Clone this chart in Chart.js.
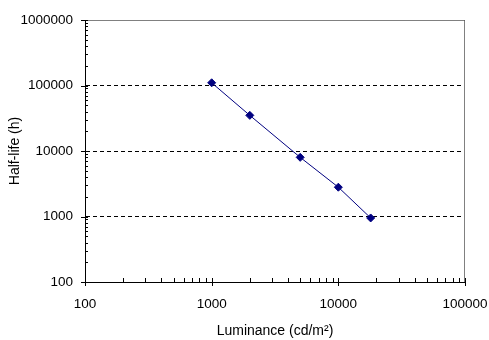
<!DOCTYPE html>
<html>
<head>
<meta charset="utf-8">
<script src="https://cdn.jsdelivr.net/npm/chart.js@4/dist/chart.umd.min.js"></script>
<style>
    html, body { margin: 0; padding: 0; background: #fff; }
    #wrap { width: 489px; height: 340px; }
</style>
</head>
<body>
<div id="wrap"><canvas id="chart" width="489" height="340"></canvas></div>
<script>
// Chart data
const luminance = [1000, 2000, 5000, 10000, 18000];
const halfLife = [110000, 35000, 8000, 2800, 950];
const xTickValues = [100, 1000, 10000, 100000];
const yTickValues = [100, 1000, 10000, 100000, 1000000];

const navy = '#000080';

// Draws the gray frame and the little log ticks like the old office chart
const frameAndTicks = {
    id: 'frameAndTicks',
    beforeDatasetsDraw(chart) {
        const ctx = chart.ctx;
        const area = chart.chartArea;
        ctx.save();
        ctx.strokeStyle = '#808080';
        ctx.lineWidth = 1;
        ctx.beginPath();
        ctx.moveTo(area.left, area.top + 0.5);
        ctx.lineTo(area.right - 0.5, area.top + 0.5);
        ctx.lineTo(area.right - 0.5, area.bottom);
        ctx.stroke();
        ctx.restore();
    },
    afterDatasetsDraw(chart) {
        const ctx = chart.ctx;
        const xs = chart.scales.x;
        const ys = chart.scales.y;
        const area = chart.chartArea;
        ctx.save();
        ctx.strokeStyle = '#000';
        ctx.lineWidth = 1;
        ctx.beginPath();

        // x axis ticks
        xTickValues.forEach((v, i) => {
            const px = Math.round(xs.getPixelForValue(v)) + 0.5;
            ctx.moveTo(px, area.bottom - 4);
            ctx.lineTo(px, area.bottom + 4);
            if (i < xTickValues.length - 1) {
                for (let m = 2; m < 10; m++) {
                    const mx = Math.round(xs.getPixelForValue(v * m)) + 0.5;
                    ctx.moveTo(mx, area.bottom - 4);
                    ctx.lineTo(mx, area.bottom);
                }
            }
        });

        // y axis ticks
        yTickValues.forEach((v, i) => {
            const py = Math.round(ys.getPixelForValue(v)) + 0.5;
            ctx.moveTo(area.left - 4, py);
            ctx.lineTo(area.left + 3, py);
            if (i < yTickValues.length - 1) {
                for (let m = 2; m < 10; m++) {
                    const my = Math.round(ys.getPixelForValue(v * m)) + 0.5;
                    ctx.moveTo(area.left, my);
                    ctx.lineTo(area.left + 3, my);
                }
            }
        });
        ctx.stroke();
        ctx.restore();
    }
};

const tickFont = { family: "'Liberation Sans', Arial, sans-serif", size: 13.5 };
const titleFont = { family: "'Liberation Sans', Arial, sans-serif", size: 14 };

new Chart(document.getElementById('chart'), {
    type: 'scatter',
    data: {
        datasets: [{
            label: 'Half-life',
            data: luminance.map((x, i) => ({ x: x, y: halfLife[i] })),
            showLine: true,
            borderColor: navy,
            backgroundColor: navy,
            borderWidth: 1,
            pointStyle: 'rectRot',
            pointRadius: 4,
            pointBorderWidth: 1,
            pointBackgroundColor: navy,
            pointBorderColor: navy
        }]
    },
    options: {
        responsive: false,
        animation: false,
        layout: { padding: { left: 0, top: 20, right: 24, bottom: 0 } },
        plugins: {
            legend: { display: false },
            tooltip: { enabled: false }
        },
        scales: {
            x: {
                type: 'logarithmic',
                min: 100,
                max: 100000,
                afterBuildTicks: (scale) => {
                    scale.ticks = xTickValues.map(v => ({ value: v }));
                },
                afterFit: (scale) => {
                    scale.height = 58;
                    scale.paddingLeft = 0;
                    scale.paddingRight = 0;
                },
                grid: { display: true, drawOnChartArea: false, drawTicks: false },
                border: { display: true, color: '#000', width: 1 },
                ticks: {
                    color: '#000',
                    font: tickFont,
                    padding: 14,
                    maxRotation: 0,
                    autoSkip: false,
                    callback: (v) => String(v)
                },
                title: {
                    display: true,
                    text: 'Luminance (cd/m²)',
                    color: '#000',
                    font: titleFont,
                    padding: { top: 0, bottom: 0 }
                }
            },
            y: {
                type: 'logarithmic',
                min: 100,
                max: 1000000,
                afterBuildTicks: (scale) => {
                    scale.ticks = yTickValues.map(v => ({ value: v }));
                },
                afterFit: (scale) => {
                    scale.width = 85;
                    scale.paddingTop = 0;
                    scale.paddingBottom = 0;
                },
                grid: { color: '#000', lineWidth: 1, drawTicks: false },
                border: { display: true, color: '#000', width: 1, dash: [4, 3] },
                ticks: {
                    color: '#000',
                    font: tickFont,
                    padding: 12,
                    autoSkip: false,
                    callback: (v) => String(v)
                },
                title: {
                    display: true,
                    text: 'Half-life (h)',
                    color: '#000',
                    font: titleFont,
                    padding: { top: 7, bottom: 0 }
                }
            }
        }
    },
    plugins: [frameAndTicks]
});
</script>
</body>
</html>
